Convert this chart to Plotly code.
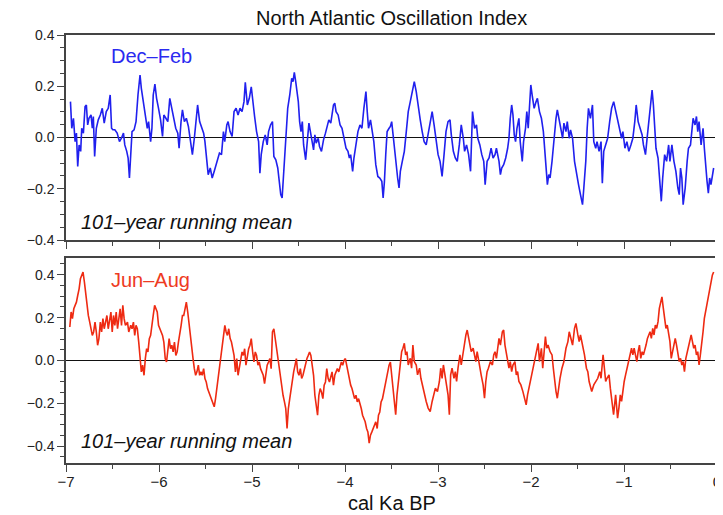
import plotly.graph_objects as go

# ---------------- data ----------------
# x: cal Ka BP (negative = before present); values: NAO index, 101-yr running mean
djf_x = [
    -6.952, -6.938, -6.920, -6.902, -6.888, -6.874, -6.859, -6.842, -6.831, -6.813,
    -6.795, -6.781, -6.767, -6.753, -6.731, -6.717, -6.706, -6.692, -6.674, -6.653,
    -6.631, -6.610, -6.589, -6.567, -6.546, -6.525, -6.510, -6.496, -6.475, -6.450,
    -6.425, -6.404, -6.382, -6.368, -6.347, -6.332, -6.318, -6.304, -6.290, -6.268,
    -6.247, -6.226, -6.204, -6.190, -6.169, -6.147, -6.126, -6.112, -6.090, -6.076,
    -6.062, -6.044, -6.026, -6.005, -5.983, -5.962, -5.948, -5.926, -5.905, -5.884,
    -5.862, -5.841, -5.820, -5.798, -5.784, -5.763, -5.748, -5.727, -5.706, -5.684,
    -5.663, -5.641, -5.620, -5.599, -5.585, -5.563, -5.542, -5.520, -5.506, -5.485,
    -5.471, -5.449, -5.428, -5.406, -5.392, -5.371, -5.350, -5.328, -5.307, -5.293,
    -5.271, -5.257, -5.236, -5.214, -5.193, -5.171, -5.150, -5.129, -5.107, -5.086,
    -5.072, -5.050, -5.029, -5.008, -4.986, -4.972, -4.951, -4.929, -4.915, -4.901,
    -4.879, -4.858, -4.837, -4.822, -4.801, -4.780, -4.765, -4.744, -4.723,
    -4.691, -4.676, -4.662, -4.644, -4.630, -4.616, -4.594, -4.573, -4.559, -4.545,
    -4.530, -4.516, -4.502, -4.488, -4.473, -4.459, -4.445, -4.423, -4.402, -4.388,
    -4.366, -4.352, -4.338, -4.324, -4.310, -4.288, -4.274, -4.253, -4.231, -4.210,
    -4.188, -4.174, -4.153, -4.139, -4.124, -4.110, -4.096, -4.074, -4.053, -4.032,
    -4.010, -3.989, -3.968, -3.953, -3.939, -3.918, -3.904, -3.882, -3.861, -3.839,
    -3.818, -3.797, -3.775, -3.761, -3.747, -3.726, -3.711, -3.690, -3.669, -3.647,
    -3.626, -3.604, -3.590, -3.576, -3.562, -3.547, -3.526, -3.512, -3.498, -3.483,
    -3.469, -3.448, -3.434, -3.419, -3.405, -3.384, -3.362, -3.341, -3.320, -3.298,
    -3.277, -3.255, -3.234, -3.213, -3.191, -3.170, -3.149, -3.127, -3.106, -3.084,
    -3.063, -3.042, -3.020, -2.999, -2.978, -2.956, -2.935, -2.914, -2.892, -2.871,
    -2.857, -2.835, -2.814, -2.793, -2.771, -2.750, -2.728, -2.714, -2.693, -2.671,
    -2.650, -2.629, -2.607, -2.586, -2.572, -2.550, -2.529, -2.508, -2.493, -2.472,
    -2.451, -2.429, -2.408, -2.387, -2.372,
    -2.344, -2.329, -2.315, -2.294, -2.272, -2.251, -2.237, -2.223, -2.208, -2.194,
    -2.180, -2.166, -2.151, -2.130, -2.116, -2.094, -2.080, -2.059, -2.045, -2.030,
    -2.016, -2.002, -1.988, -1.966, -1.945, -1.931, -1.909, -1.888, -1.867, -1.852,
    -1.838, -1.824, -1.809, -1.795, -1.774, -1.753, -1.731, -1.717, -1.696, -1.681,
    -1.660, -1.646, -1.624, -1.610, -1.589, -1.575, -1.553, -1.532, -1.510, -1.489,
    -1.468, -1.446, -1.432, -1.411, -1.396, -1.382, -1.361, -1.339, -1.325, -1.304,
    -1.290, -1.268, -1.247, -1.233, -1.218, -1.197, -1.176, -1.154, -1.133, -1.111,
    -1.090, -1.069, -1.047, -1.026, -1.012, -0.990, -0.969, -0.948, -0.926, -0.905,
    -0.884, -0.869, -0.848, -0.826, -0.805, -0.791, -0.769, -0.748, -0.726, -0.712,
    -0.698, -0.684, -0.670, -0.656, -0.634, -0.620, -0.599, -0.584, -0.563, -0.542,
    -0.520, -0.506, -0.485, -0.463, -0.442, -0.421, -0.406, -0.392, -0.378, -0.364,
    -0.342, -0.321, -0.307, -0.285, -0.271, -0.257, -0.236, -0.221, -0.207, -0.193,
    -0.171, -0.150, -0.136, -0.122, -0.107, -0.093, -0.079, -0.065, -0.050, -0.036,
]
djf_nao = [
    0.140, 0.036, 0.075, -0.016, 0.017, -0.113, -0.029, -0.054, 0.036, 0.017,
    0.121, 0.127, 0.049, 0.075, 0.088, 0.036, 0.082, -0.074, 0.036, 0.069,
    0.088, 0.114, 0.056, 0.101, 0.114, 0.166, 0.036, 0.030, 0.030, 0.017,
    -0.016, -0.003, 0.017, -0.029, -0.054, -0.080, -0.158, -0.067, 0.023, 0.030,
    0.062, 0.166, 0.244, 0.192, 0.140, 0.075, 0.036, 0.062, -0.016, 0.036,
    0.166, 0.208, 0.153, 0.114, 0.069, 0.004, 0.088, 0.075, 0.062, 0.153,
    0.114, 0.062, 0.036, 0.017, -0.042, 0.062, 0.108, 0.062, 0.075, 0.043,
    -0.003, -0.067, -0.003, 0.075, 0.127, 0.062, 0.036, 0.017, -0.016, -0.080,
    -0.145, -0.119, -0.158, -0.132, -0.113, -0.093, -0.061, -0.067, 0.023, -0.016,
    0.049, 0.062, 0.023, 0.004, 0.101, 0.114, 0.088, 0.114, 0.101, 0.140,
    0.215, 0.127, 0.153, 0.198, 0.114, 0.082, 0.023, -0.016, -0.139, -0.067,
    -0.016, 0.010, -0.029, 0.023, 0.049, 0.062, -0.074, -0.087, -0.119,
    -0.223, -0.236, -0.158, -0.054, 0.036, 0.114, 0.166, 0.231, 0.218, 0.254,
    0.218, 0.179, 0.140, 0.062, 0.023, 0.062, -0.029, -0.087, -0.016, 0.056,
    0.010, -0.016, -0.048, 0.010, -0.022, -0.003, -0.035, -0.054, -0.009, 0.017,
    0.049, 0.069, 0.056, 0.101, 0.127, 0.134, 0.101, 0.088, 0.049, 0.036,
    -0.009, -0.042, -0.054, -0.080, -0.067, -0.132, -0.080, -0.016, 0.023, 0.049,
    0.036, 0.114, 0.179, 0.101, 0.036, 0.069, 0.036, -0.016, -0.106, -0.152,
    -0.158, -0.171, -0.236, -0.171, -0.067, 0.023, 0.036, 0.043, 0.062, 0.010,
    -0.054, -0.119, -0.158, -0.197, -0.132, -0.093, -0.054, 0.023, 0.101, 0.140,
    0.179, 0.218, 0.179, 0.114, 0.069, 0.023, -0.016, -0.029, 0.017, 0.056,
    0.101, 0.049, -0.009, -0.067, -0.093, -0.152, -0.067, 0.023, 0.062, 0.069,
    0.010, -0.054, -0.080, -0.093, -0.029, 0.049, -0.003, -0.054, -0.029, -0.067,
    -0.132, 0.101, 0.036, 0.049, -0.003, -0.029, -0.067, -0.093, -0.184, -0.093,
    -0.080, -0.042, -0.080, -0.067, -0.042,
    -0.093, -0.145, -0.119, -0.106, -0.080, -0.042, -0.003, 0.075, 0.127, 0.088,
    0.010, -0.016, 0.036, 0.075, -0.016, -0.093, -0.016, 0.036, 0.101, 0.036,
    0.127, 0.205, 0.166, 0.114, 0.140, 0.153, 0.101, 0.075, 0.023, -0.054,
    -0.145, -0.184, -0.145, -0.158, -0.093, -0.003, 0.075, 0.108, 0.062, 0.036,
    -0.003, 0.056, 0.023, 0.062, -0.003, 0.030, -0.003, -0.093, -0.145, -0.184,
    -0.223, -0.262, -0.197, -0.093, 0.036, 0.114, 0.075, 0.127, -0.016, -0.042,
    -0.016, -0.054, -0.016, -0.178, -0.054, -0.029, -0.003, 0.062, 0.114, 0.140,
    0.101, 0.075, 0.023, -0.003, 0.023, -0.042, -0.016, -0.054, -0.029, -0.003,
    0.062, 0.127, 0.062, 0.036, 0.010, -0.029, -0.067, 0.010, 0.101, 0.140,
    0.185, 0.127, 0.036, -0.042, -0.080, -0.145, -0.249, -0.158, -0.067, -0.093,
    -0.029, -0.093, -0.029, -0.093, -0.132, -0.197, -0.223, -0.119, -0.158, -0.262,
    -0.197, -0.093, -0.042, -0.029, 0.036, 0.075, 0.049, 0.082, 0.023, 0.062,
    -0.029, 0.036, -0.042, -0.119, -0.171, -0.217, -0.158, -0.184, -0.145, -0.119,
]

jja_x = [
    -6.959, -6.945, -6.931, -6.916, -6.902, -6.888, -6.874, -6.859, -6.845, -6.831,
    -6.817, -6.802, -6.788, -6.774, -6.760, -6.745, -6.731, -6.717, -6.703, -6.688,
    -6.674, -6.660, -6.646, -6.631, -6.617, -6.603, -6.589, -6.574, -6.560, -6.546,
    -6.532, -6.517, -6.503, -6.489, -6.475, -6.460, -6.446, -6.432, -6.418, -6.403,
    -6.389, -6.375, -6.361, -6.339, -6.325, -6.304, -6.290, -6.275, -6.261, -6.247,
    -6.233, -6.218, -6.204, -6.190, -6.176, -6.161, -6.147, -6.133, -6.119, -6.104,
    -6.090, -6.076, -6.062, -6.047, -6.033, -6.019, -6.005, -5.990, -5.976, -5.962,
    -5.948, -5.933, -5.919, -5.905, -5.891, -5.876, -5.862, -5.848, -5.834, -5.819,
    -5.805, -5.791, -5.777, -5.762, -5.748, -5.734, -5.720, -5.706, -5.691, -5.677,
    -5.663, -5.649, -5.634, -5.620, -5.606, -5.592, -5.577, -5.563, -5.549, -5.535,
    -5.520, -5.506, -5.492, -5.478, -5.463, -5.449, -5.435, -5.421, -5.406, -5.392,
    -5.378, -5.364, -5.349, -5.335, -5.321, -5.307, -5.292, -5.278, -5.264, -5.250,
    -5.235, -5.221, -5.207, -5.193, -5.178, -5.164, -5.150, -5.136, -5.121, -5.107,
    -5.093, -5.079, -5.065, -5.050, -5.036, -5.022, -5.008, -4.993, -4.979, -4.965,
    -4.951, -4.936, -4.922, -4.908, -4.894, -4.879, -4.865, -4.851, -4.837, -4.822,
    -4.808, -4.794, -4.780, -4.765, -4.751, -4.737, -4.723, -4.708, -4.694, -4.680,
    -4.666, -4.651, -4.637, -4.623, -4.609, -4.594, -4.580, -4.566, -4.552, -4.537,
    -4.523, -4.509, -4.495, -4.480, -4.466, -4.452, -4.438, -4.424, -4.409, -4.395,
    -4.381, -4.367, -4.352, -4.338, -4.324, -4.310, -4.295, -4.281, -4.267, -4.253,
    -4.238, -4.224, -4.210, -4.196, -4.181, -4.167, -4.153, -4.139, -4.124, -4.110,
    -4.096, -4.082, -4.067, -4.053, -4.039, -4.025, -4.010, -3.996, -3.982, -3.968,
    -3.953, -3.939, -3.925, -3.911, -3.897, -3.882, -3.868, -3.854, -3.840, -3.825,
    -3.811, -3.797, -3.783, -3.768, -3.754, -3.740, -3.726, -3.711, -3.697, -3.683,
    -3.669, -3.654, -3.640, -3.626, -3.612, -3.597, -3.583, -3.569, -3.555, -3.540,
    -3.526, -3.512,
    -3.490, -3.476, -3.455, -3.441, -3.426, -3.405, -3.391, -3.377, -3.362, -3.348,
    -3.334, -3.320, -3.298, -3.284, -3.270, -3.255, -3.234, -3.220, -3.198, -3.184,
    -3.163, -3.149, -3.127, -3.106, -3.084, -3.063, -3.049, -3.028, -3.006, -2.985,
    -2.971, -2.956, -2.942, -2.928, -2.906, -2.892, -2.878, -2.864, -2.849, -2.828,
    -2.814, -2.800, -2.785, -2.764, -2.750, -2.728, -2.714, -2.700, -2.686, -2.671,
    -2.657, -2.643, -2.622, -2.607, -2.593, -2.579, -2.558, -2.536, -2.515, -2.500,
    -2.486, -2.472, -2.458, -2.436, -2.415, -2.401, -2.387, -2.372,
    -2.344, -2.329, -2.308, -2.294, -2.280, -2.265, -2.251, -2.237, -2.223, -2.208,
    -2.194, -2.173, -2.158, -2.144, -2.130, -2.109, -2.087, -2.073, -2.052, -2.037,
    -2.016, -2.002, -1.988, -1.966, -1.952, -1.938, -1.923, -1.909, -1.888, -1.874,
    -1.859, -1.845, -1.831, -1.817, -1.795, -1.774, -1.760, -1.745, -1.731, -1.717,
    -1.703, -1.688, -1.667, -1.646, -1.624, -1.603, -1.589, -1.575, -1.553, -1.532,
    -1.517, -1.496, -1.482, -1.468, -1.446, -1.425, -1.404, -1.389, -1.375, -1.361,
    -1.347, -1.325, -1.304, -1.282, -1.261, -1.247, -1.225, -1.211, -1.197, -1.183,
    -1.161, -1.147, -1.126, -1.112, -1.090, -1.069, -1.055, -1.040, -1.026, -1.012,
    -0.998, -0.983, -0.969, -0.948, -0.934, -0.919, -0.905, -0.891, -0.877, -0.862,
    -0.848, -0.834, -0.820, -0.805, -0.791, -0.777, -0.763, -0.748, -0.734, -0.720,
    -0.706, -0.691, -0.677, -0.663, -0.649, -0.634, -0.620, -0.606, -0.592, -0.577,
    -0.563, -0.549, -0.535, -0.520, -0.506, -0.492, -0.478, -0.463, -0.449, -0.435,
    -0.421, -0.406, -0.392, -0.378, -0.364, -0.350, -0.335, -0.321, -0.307, -0.293,
    -0.278, -0.264, -0.250, -0.236, -0.221, -0.207, -0.193, -0.179, -0.164, -0.150,
    -0.136, -0.122, -0.107, -0.093, -0.079, -0.065, -0.050, -0.036,
]
jja_nao = [
    0.156, 0.226, 0.195, 0.241, 0.257, 0.272, 0.303, 0.334, 0.381, 0.396,
    0.412, 0.365, 0.303, 0.257, 0.210, 0.179, 0.148, 0.117, 0.133, 0.179,
    0.133, 0.071, 0.102, 0.179, 0.133, 0.195, 0.148, 0.179, 0.210, 0.148,
    0.195, 0.226, 0.133, 0.210, 0.164, 0.226, 0.148, 0.195, 0.241, 0.164,
    0.257, 0.195, 0.164, 0.179, 0.133, 0.164, 0.148, 0.179, 0.117, 0.164,
    0.148, 0.086, 0.009, -0.053, -0.022, -0.069, 0.009, 0.055, 0.040, 0.102,
    0.117, 0.179, 0.210, 0.257, 0.241, 0.226, 0.164, 0.148, 0.133, 0.117,
    0.086, 0.009, -0.007, 0.055, 0.102, 0.055, 0.071, 0.040, 0.086, 0.024,
    0.040, 0.086, 0.117, 0.164, 0.210, 0.210, 0.241, 0.272, 0.226, 0.164,
    0.102, 0.055, 0.009, -0.038, -0.069, -0.053, -0.022, -0.069, -0.053, -0.069,
    -0.038, -0.084, -0.100, -0.131, -0.147, -0.162, -0.178, -0.193, -0.216, -0.178,
    -0.131, -0.084, -0.038, 0.009, 0.055, 0.102, 0.164, 0.133, 0.117, 0.148,
    0.102, 0.086, 0.055, 0.024, -0.053, 0.009, -0.069, -0.038, -0.007, 0.040,
    0.024, 0.055, -0.022, 0.024, 0.055, 0.071, 0.102, 0.040, -0.007, 0.040,
    0.024, -0.022, -0.007, -0.038, -0.053, -0.069, -0.108, -0.053, -0.022, -0.007,
    0.009, -0.038, 0.133, 0.148, 0.102, 0.055, 0.009, -0.022, -0.069, -0.131,
    -0.162, -0.193, -0.224, -0.317, -0.224, -0.178, -0.131, -0.084, -0.053, -0.022,
    0.009, -0.053, -0.069, -0.038, -0.084, -0.069, -0.038, -0.022, 0.009, 0.024,
    0.040, 0.024, -0.022, -0.069, -0.162, -0.224, -0.255, -0.162, -0.131, -0.147,
    -0.178, -0.115, -0.100, -0.038, -0.084, -0.100, -0.069, -0.053, -0.115, -0.069,
    -0.053, -0.038, -0.053, -0.022, -0.007, -0.022, 0.001, 0.009, -0.022, -0.069,
    -0.084, -0.115, -0.131, -0.162, -0.178, -0.162, -0.193, -0.178, -0.209, -0.224,
    -0.255, -0.271, -0.286, -0.317, -0.333, -0.385, -0.348, -0.333, -0.317, -0.302,
    -0.286, -0.317, -0.255, -0.240, -0.193, -0.178, -0.147, -0.115, -0.069, -0.038,
    -0.022, -0.007,
    -0.098, -0.160, -0.253, -0.160, -0.098, 0.010, 0.041, 0.057, 0.080, 0.026,
    0.041, -0.021, 0.010, -0.036, 0.072, -0.005, -0.021, -0.067, -0.036, -0.083,
    -0.129, -0.160, -0.191, -0.222, -0.238, -0.191, -0.160, -0.129, -0.145, -0.098,
    -0.036, -0.083, -0.021, -0.067, -0.114, -0.160, -0.253, -0.067, -0.036, -0.083,
    -0.052, -0.098, -0.036, 0.026, -0.021, 0.041, 0.088, 0.119, 0.142, 0.103,
    0.072, 0.041, 0.057, 0.026, -0.005, 0.041, -0.021, -0.067, -0.114, -0.176,
    -0.098, -0.052, -0.036, -0.005, -0.021, 0.026, 0.041, 0.010,
    0.103, 0.072, 0.134, 0.142, 0.072, 0.026, -0.005, -0.036, -0.005, -0.052,
    -0.021, -0.005, -0.067, -0.052, -0.098, -0.114, -0.145, -0.176, -0.207, -0.160,
    -0.114, -0.083, -0.052, -0.021, 0.026, 0.057, 0.080, -0.005, 0.057, -0.036,
    0.026, 0.111, 0.057, 0.072, 0.041, 0.026, -0.036, -0.098, -0.145, -0.176,
    -0.129, -0.083, -0.036, -0.005, 0.057, 0.088, 0.134, 0.103, 0.072, 0.150,
    0.173, 0.119, 0.088, 0.119, 0.072, 0.026, -0.036, -0.052, -0.098, -0.129,
    -0.145, -0.114, -0.098, -0.083, -0.052, -0.083, 0.026, -0.036, -0.098, -0.083,
    -0.067, -0.129, -0.191, -0.253, -0.160, -0.269, -0.222, -0.160, -0.191, -0.129,
    -0.098, -0.067, -0.036, -0.005, 0.026, 0.057, 0.026, 0.057, 0.026, -0.005,
    0.041, 0.072, 0.010, 0.041, 0.026, 0.057, 0.072, 0.103, 0.119, 0.134,
    0.103, 0.150, 0.119, 0.165, 0.150, 0.181, 0.243, 0.274, 0.297, 0.243,
    0.181, 0.150, 0.165, 0.119, 0.088, 0.010, 0.041, 0.057, 0.103, 0.072,
    0.026, -0.005, 0.010, -0.021, -0.005, -0.052, 0.010, 0.041, 0.072, 0.103,
    0.119, 0.088, 0.057, 0.072, 0.026, 0.041, -0.021, 0.026, 0.103, 0.134,
    0.196, 0.227, 0.274, 0.305, 0.336, 0.367, 0.398, 0.413,
]

x_ticks = [-7, -6, -5, -4, -3, -2, -1, 0]
y_ticks = [-0.4, -0.2, 0.0, 0.2, 0.4]

# ---------------- figure ----------------
FONT = "Liberation Sans, Arial, Helvetica, sans-serif"
AX = "#444444"

fig = go.Figure()
fig.add_trace(go.Scatter(x=djf_x, y=djf_nao, mode="lines", xaxis="x", yaxis="y",
                         line=dict(color="#2020ee", width=1.6), showlegend=False,
                         hoverinfo="skip"))
fig.add_trace(go.Scatter(x=jja_x, y=jja_nao, mode="lines", xaxis="x2", yaxis="y2",
                         line=dict(color="#ee2a12", width=1.6), showlegend=False,
                         hoverinfo="skip"))

common_x = dict(range=[-7, 0], tickvals=x_ticks, showline=True, mirror=True,
                linecolor=AX, linewidth=1.5, ticks="outside", ticklen=7,
                tickcolor=AX, tickwidth=1, showgrid=False, zeroline=False,
                minor=dict(dtick=0.5, tick0=0, ticks="outside", ticklen=4,
                           tickcolor=AX, tickwidth=1, showgrid=False))
common_y = dict(tickvals=y_ticks, tickformat=".1f", showline=True, mirror=True,
                linecolor=AX, linewidth=1.5, ticks="outside", ticklen=7,
                tickcolor=AX, tickwidth=1, showgrid=False, zeroline=True,
                zerolinecolor="#111111", zerolinewidth=1,
                tickfont=dict(size=14, color="#222222", family=FONT),
                minor=dict(dtick=0.05, tick0=0, ticks="outside", ticklen=4,
                           tickcolor=AX, tickwidth=1, showgrid=False))

# the page body adds an 8 px offset, so the figure is 8 px smaller
fig.update_layout(
    width=715, height=507,
    margin=dict(l=58, r=2, t=27, b=52),
    paper_bgcolor="white", plot_bgcolor="white",
    font=dict(family=FONT, color="#111111"),
    xaxis=dict(common_x, domain=[0, 1], anchor="y", showticklabels=False),
    xaxis2=dict(common_x, domain=[0, 1], anchor="y2", showticklabels=True,
                ticklabeloverflow="allow", ticklabelstandoff=-3,
                tickfont=dict(size=15, color="#222222", family=FONT)),
    yaxis=dict(common_y, domain=[0.521, 1.0], anchor="x", range=[-0.4, 0.4]),
    yaxis2=dict(common_y, domain=[0.0, 0.479], anchor="x2", range=[-0.478, 0.478]),
    annotations=[
        dict(text="North Atlantic Oscillation Index", xref="paper", yref="paper",
             x=0.5, y=1.039, xanchor="center", yanchor="middle", showarrow=False,
             font=dict(size=20, color="#111111", family=FONT)),
        dict(text="Dec\u2013Feb", xref="x", yref="y", x=-6.54, y=0.319,
             xanchor="left", yanchor="middle", showarrow=False,
             font=dict(size=20, color="#2a2af0", family=FONT)),
        dict(text="Jun\u2013Aug", xref="x2", yref="y2", x=-6.54, y=0.374,
             xanchor="left", yanchor="middle", showarrow=False,
             font=dict(size=20, color="#ee3a22", family=FONT)),
        dict(text="<i>101\u2013year running mean</i>", xref="x", yref="y",
             x=-6.86, y=-0.331, xanchor="left", yanchor="middle", showarrow=False,
             font=dict(size=20, color="#111111", family=FONT)),
        dict(text="<i>101\u2013year running mean</i>", xref="x2", yref="y2",
             x=-6.86, y=-0.374, xanchor="left", yanchor="middle", showarrow=False,
             font=dict(size=20, color="#111111", family=FONT)),
        dict(text="cal Ka BP", xref="paper", yref="paper", x=0.5, y=-0.094,
             xanchor="center", yanchor="middle", showarrow=False,
             font=dict(size=20, color="#111111", family=FONT)),
    ],
)

fig.write_html("out.html")
